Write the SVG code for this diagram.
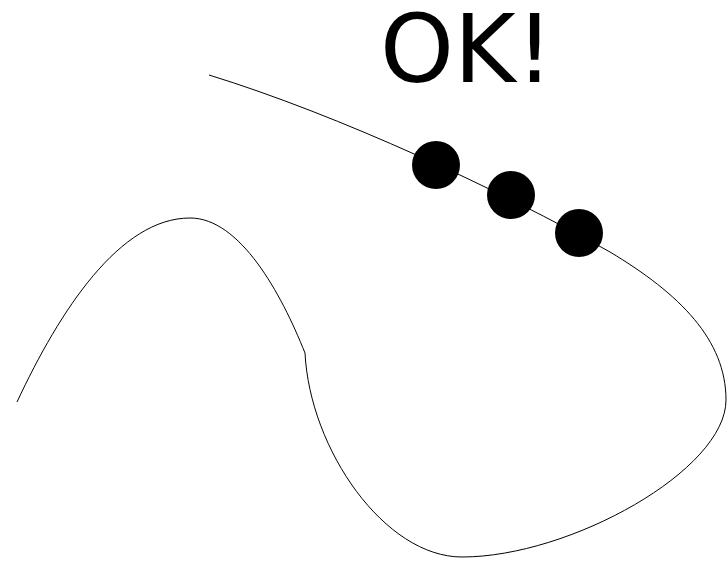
<svg xmlns="http://www.w3.org/2000/svg" width="727" height="562" viewBox="0 0 727 562">
<style>
.curve{fill:none;stroke:#000;stroke-width:1}
.dot{fill:#000}
.lbl{font-family:"DejaVu Sans",sans-serif;font-size:94px;fill:#000}
</style>
<rect width="727" height="562" fill="#fff"/>
<g id="connectors">
<path class="curve" d="M209,75 C339,115 500,190 610,252 C680,294 726,340 726,400 C726,470 570,557 462,557 C385,557 310,450 305,353 C281,293 240,218 190,218 C120,218 60,310 17,402"/>
</g>
<g id="dot1"><circle class="dot" cx="436" cy="165" r="24"/></g>
<g id="dot2"><circle class="dot" cx="511" cy="195" r="24"/></g>
<g id="dot3"><circle class="dot" cx="579" cy="233" r="24"/></g>
<g id="label"><text class="lbl" x="380" y="82">OK!</text></g>
</svg>
